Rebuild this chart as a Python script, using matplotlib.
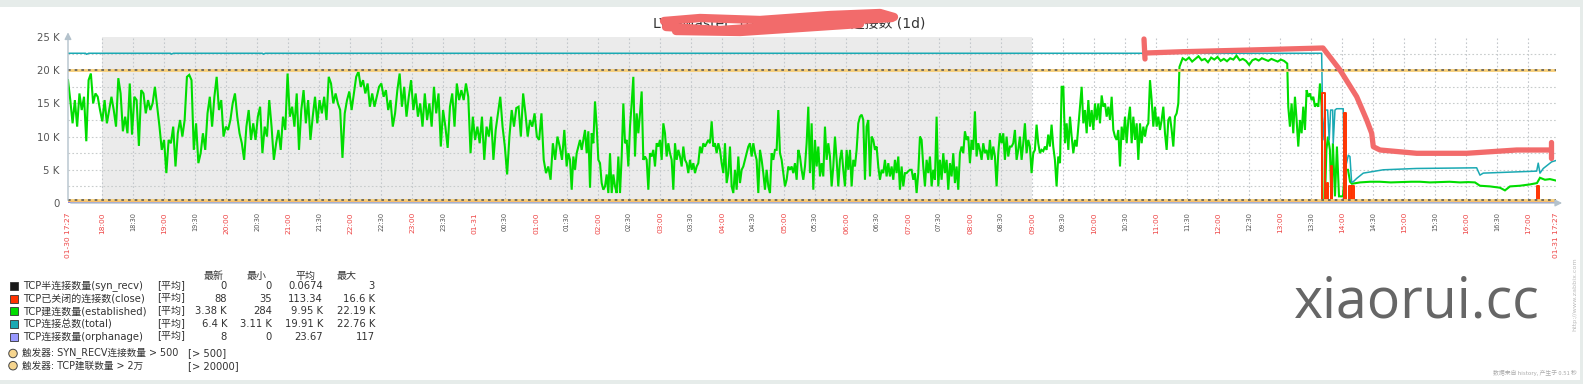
import matplotlib
matplotlib.use('Agg')
import matplotlib.pyplot as plt
import numpy as np
from matplotlib.patches import Rectangle, Ellipse
from matplotlib.lines import Line2D

# ---------------- data (values in K, time in minutes after 01-30 17:27) ----------------
green_a = [18.5,15.5,12,15.5,11.5,16.5,14,16,9.3,18.5,19.5,15,16.5,16,14,12.3,15.5,12,14,16,14,11.5,18.8,16.5,10.8,13,10.5,18,10.3,16,15.5,8.6,17,16.5,13.5,15.5,14,15,17.5,14.5,11.5,8,9.5,4.5,9.5,9,11.5,5.5,10.5,12.5,10,12.5,19,19.3,18.5,8,12,6,7.5,10.5,8,13.5,16,11.5,16,19,14,15.5,10,11.5,11,12.5,15,16.5,13,10.5,9,6.5,11.5,14,9.5,12,9.5,13,14.5,7.5,11.5,10,15.5,11.5,6.5,9,11,8,13,11,19.5,13,14.5,11.5,16.5,8,14,17,12,15.5,9.5,13,16,12,15.5,13.5,16,12.5,19,18,15,16.5,15,14,6.8,13.5,15.5,16.8,14,16.5,19,19.8,17.5,18.5,16.5,18,14.5,16.5,14.5,16,17.5,18,16,17,14,15.5,11.5,13.5,17,19.5,14.5,17.5,13,16,18.5,14,16.5,13,15,11.5,16.5,12.5,15,11.5,17.5,13.5,16.5,8.5,14,11.5,8.3,14.5,16.5,11.5,18,15.5,17,15.5,18,16,7.5,13,9.5,11.5,9,13,6.5,11.5,10,13,6.5,11,13.5,16,11.5,8.5,4.3,10,14,11.5,14.3,14.5,10,16.5,13.5,10,12.5,11.5,13.5,10,9.5,13.5,6.5,4.5,5.5,3.5,9,6.5,10,8.5,6.5,11]
green_b = [5.5,7.5,6.5,2,7,5,7.5,8.5,9.5,8,9.5,11,7.5,10.8,2.3,10.5,9,15.3,11.5,6.5,6,3,2,2.5,4.3,1.5,7.5,1.5,4.3,2.5,1.5,7,1.5,7,15,9,9.5,5.5,11.5,15,19,7,13.5,10.5,13.5,16.8,6.5,7,6.5,2,7.5,7,8,5.5,9,8.5,9.5,6.5,12,10.5,7,9,7.5,6.5,2,9,6.5,8,7,5.5,8.5,6.5,6,4.5,6.5,5,6,4.5,5.5,6,8.5,7.5,9,8.5,9,9.5,9,12.3,8.5,9,7.5,9,8,6,4.5,9,3,4.5,8.5,2.5,1.5,5,2,7,3,5,5.5,6.5,7.5,8.5,9,7,9,7.5,6.5,1.5,8,6.5,4.5,2,5,2.5,1.5,7.5,6.5,8,8,14,7.5,6.5,4.5,2.5,3.5,5.5,5,5.5,4.5,6,3.5,8,7,5,3.5,5.5,9,14.5,4.5,12,2,9.5,5.5,8.5,4,6,4,11.5,6.5,9,7,2.5,5.5,10,6.5,2.5,6.5,8,5,2.5,8,5,8,2.5,6.5,5.5,8,12,13,13.3,12.5,3.5,11.5,12.5,4,10,9.5,8,8.5,5.5,3.5,5,4.5,6.5,4,6,4,5.5,3.5,6.5,4.5,7,2,5.5,2.5,4.5,4.5,4.8,5,5,3.5,4.5,1.5,4.5,10,9.5,5.5,2.5,6.5,4.5,7,2.5,5,3.5,13,2.5,6.5,3.5,7.5,4.5,6.5,2,6,4,7.5,3,5.5,2,7.5,8.5,7.5,10.8,9.5,10,6,9.5,8,13.8,7,9,8,6.5,9,7.5,8,6.5,9.5,6.5,8.5,7,2.5,7.5,10.5,9,10.5,6.5,10,7,8.5,8.5,9,11,6.5,8,10,6.5,9,12,7.5,9.5,8.5,4.5,7.5,8,11.8,9,7.5,8,7.8,8.5,8,10.3,8.5,11.8,8.5,6.5,2.5,7]
green_c = [6,17.5,17.5,9,12,8,13,10,7.5,9.5,8.5,11.5,14.5,17.5,12,14,10.5,15.5,11.5,14,11,15,12.5,15,12,16.2,14.5,15,13,14.5,12.5,16,11,10,9.5,11,5.5,11.5,9.5,13,9,12.5,14.5,9,13,9.5,12,6.5,12,9,11.5,10,11.5,12,18.5,15.5,11.5,14.5,11.5,13,11,12.5,14.5,10.5,8,12.5,13,11,8.5,13,13.5,15]
green_plateau = [20.5,21.8,21.5,21.9,21.3,21.7,22.1,21.5,21.7,21.2,21.9,21.6,22.0,21.4,21.7,21.35,21.8,21.6,22.19,21.5,21.7,21.4,20.8,21.5,21.7,21.45,21.8,21.6,21.4,21.7,21.5,21.3,21.6,21.4,21.0]
green_d = [14.5,11.5,15,10.5,16,12.5,8.5,12.5,10.5,14.5,11,17,16,16.5,15.5,16,14.5,15,14.5,18,14.5]
green_spans = [(0, 480.3), (482.6, 958.3), (960, 1074.5), (1075.6, 1179.9), (1180.9, 1213.2)]
green_tail_t = [1214.2,1216.4,1217.8,1219.3,1221.2,1222.6,1224.1,1226.1,1228,1230,1233.8,1235.8,1238.7,1240.7,1242.5,1250.3,1260,1269.7,1280,1289,1300,1308.4,1318,1327.7,1337,1347.1,1355,1361.6,1366.4,1376.1,1385.8,1390.6,1395.5,1405.1,1414.8,1421.6,1424.5,1429.3,1434.1,1440]
green_tail_v = [0.3,0.3,8,10,8,0.5,9,1,8.5,1,1,5,5,3.2,2.9,3.1,3.2,3.2,3.1,3.15,3.2,3.2,3.1,3.15,3.2,3.1,3.15,3.1,2.6,2.5,2.3,1.9,2.5,2.6,2.8,3.0,3.8,3.5,3.6,3.38]

total_t = [0,17,18,20,99,100,102,188,189,191,1213.2,1214.5,1216.7,1219.0,1220.5,1221.9,1223.9,1224.4,1226.1,1227.7,1234.1,1235.1,1239,1240.6,1242.2,1243.8,1247.1,1253.5,1272.8,1305.1,1363.2,1366.4,1369.6,1421.3,1422.8,1424.5,1427.7,1435.8,1440]
total_v = [22.55,22.55,22.4,22.55,22.55,22.42,22.55,22.55,22.42,22.55,22.55,9.5,14,14,9.5,14,14,9,14,14.2,14.2,4.5,7.2,7.0,3.11,3.2,3.7,4.5,5.0,5.2,5.3,4.2,4.5,4.8,6.0,4.5,5.2,6.2,6.4]

close_t = [0,1213,1214,1216,1218,1219.5,1222,1223.5,1235,1237,1240,1241.5,1243,1244.5,1422,1423.5,1440]
close_v = [0.1,0.1,16.6,0.1,3,0.1,5.5,0.1,13.5,0.1,2.5,0.1,2.5,0.1,2.5,0.1,0.088]

orphan_t = [0, 1260, 1262, 1340, 1342, 1440]
orphan_v = [0.02, 0.02, 0.11, 0.11, 0.02, 0.008]
synrecv_t = [0, 1440]
synrecv_v = [0, 0]

trigger_levels = [20000, 500]

legend_names = ["TCP半连接数量(syn_recv)", "TCP已关闭的连接数(close)", "TCP建连数量(established)",
                "TCP连接总数(total)", "TCP连接数量(orphanage)"]
legend_colors = ["#1a1a1a", "#ff3300", "#00dd00", "#1aa9b3", "#9999ff"]
legend_last = ["0", "88", "3.38 K", "6.4 K", "8"]
legend_min = ["0", "35", "284", "3.11 K", "0"]
legend_avg = ["0.0674", "113.34", "9.95 K", "19.91 K", "23.67"]
legend_max = ["3", "16.6 K", "22.19 K", "22.76 K", "117"]
trigger_names = ["触发器: SYN_RECV连接数量 > 500", "触发器: TCP建联数量 > 2万"]
trigger_vals = ["[> 500]", "[> 20000]"]

# ---------------- figure ----------------
W, H = 1583, 384
FONT = ['DejaVu Sans', 'Noto Sans CJK SC']
plt.rcParams['font.family'] = FONT
fig = plt.figure(figsize=(W / 100, H / 100), dpi=100)
fig.patch.set_facecolor('#e6ecea')

def fx(x):
    return x / W

def fy(y):
    return 1 - y / H

fig.patches.append(Rectangle((0, fy(380)), fx(1580), (380 - 7) / H, transform=fig.transFigure,
                             facecolor='white', edgecolor='none', zorder=-10))

ax = fig.add_axes([fx(68), fy(203), 1488 / W, 166 / H])
ax.set_zorder(1)
ax.set_xlim(0, 1440)
ax.set_ylim(0, 25000)
ax.patch.set_alpha(0)
for s in ax.spines.values():
    s.set_visible(False)

# non-working-time shading 18:00 -> 09:00
ax.axvspan(33, 933, color='#ebebeb', zorder=0, lw=0)

# grid
ticks = np.arange(33, 1440, 30)
for t in ticks:
    ax.axvline(t, color='#c4c8cc', lw=0.8, ls=(0, (1.5, 2)), zorder=1)
for v in np.arange(2500, 25000, 2500):
    ax.axhline(v, color='#c8cccc', lw=0.8, ls=(0, (1.5, 2)), zorder=1)

# series
gt, gv = [], []
for seg, (a, b) in zip([green_a, green_b, green_c, green_plateau, green_d], green_spans):
    gt.extend(np.linspace(a, b, len(seg)))
    gv.extend(seg)
gt.extend(green_tail_t)
gv.extend(green_tail_v)
gv = np.array(gv) * 1000

ax.plot(gt, gv, color='#00dd00', lw=1.5, zorder=3, solid_joinstyle='miter')
ax.plot(total_t, np.array(total_v) * 1000, color='#1aa9b3', lw=1.1, zorder=4)
ax.plot(close_t, np.array(close_v) * 1000, color='#ff3300', lw=1.4, zorder=5, drawstyle='steps-post')
ax.plot(orphan_t, np.array(orphan_v) * 1000, color='#8888ee', lw=1.2, zorder=5)
ax.plot(synrecv_t, synrecv_v, color='#222222', lw=0.6, zorder=5)

for lvl in trigger_levels:
    ax.axhline(lvl, color='#f8cf78', lw=2.0, zorder=6)
    ax.axhline(lvl, color='#5a5a5a', lw=1.2, dashes=(1.6, 2.4), zorder=7)

# axes lines with arrows
ax.annotate('', xy=(0, 1.045), xytext=(0, 0), xycoords='axes fraction',
            arrowprops=dict(arrowstyle='-|>,head_length=0.4,head_width=0.2', color='#b4c2cc', lw=1), zorder=8)
ax.annotate('', xy=(1.006, 0), xytext=(0, 0), xycoords='axes fraction',
            arrowprops=dict(arrowstyle='-|>,head_length=0.4,head_width=0.2', color='#b4c2cc', lw=1), zorder=8)

# y ticks
ax.set_yticks(np.arange(0, 25001, 5000))
ax.set_yticklabels(['0'] + ['%d K' % (v // 1000) for v in range(5000, 25001, 5000)])
ax.tick_params(axis='y', length=0, pad=6, labelsize=7.3, labelcolor='#555555')

# x ticks
xt = [0] + list(ticks) + [1440]
labels, colors, sizes = [], [], []
for t in xt:
    if t == 0:
        labels.append('01-30 17:27'); colors.append('#ee4444'); sizes.append(5.4)
        continue
    if t == 1440:
        labels.append('01-31 17:27'); colors.append('#ee4444'); sizes.append(5.4)
        continue
    m = (17 * 60 + 27 + t) % 1440
    hh, mm = m // 60, m % 60
    if hh == 0 and mm == 0:
        labels.append('01-31'); colors.append('#ee4444'); sizes.append(5.4)
    elif mm == 0:
        labels.append('%02d:00' % hh); colors.append('#ee4444'); sizes.append(5.4)
    else:
        labels.append('%02d:%02d' % (hh, mm)); colors.append('#555555'); sizes.append(4.8)
ax.set_xticks(xt)
ax.set_xticklabels(labels, rotation=90, va='top', ha='center')
for lab, c, s in zip(ax.get_xticklabels(), colors, sizes):
    lab.set_color(c)
    lab.set_fontsize(s)
ax.tick_params(axis='x', length=0, pad=6.5)

# title
fig.text(fx(925), fy(23), 'LVS-Master_10.1.222.11 TCP连接数 (1d)', ha='right', va='center',
         fontsize=10, color='#333333', family=FONT)

# legend
LFS = 7.2
hdr_y = 276
for name, xr in zip(['最新', '最小', '平均', '最大'], [224, 267, 315, 357]):
    fig.text(fx(xr), fy(hdr_y), name, ha='right', va='center', fontsize=LFS, color='#333333', family=FONT)
row_y = [286, 298.5, 311, 324, 336.5]
for i in range(5):
    y = row_y[i]
    fig.patches.append(Rectangle((fx(9.5), fy(y + 4)), 8 / W, 8 / H, transform=fig.transFigure,
                                 facecolor=legend_colors[i], edgecolor='#333333', lw=0.6))
    fig.text(fx(23), fy(y), legend_names[i], ha='left', va='center', fontsize=LFS, color='#333333', family=FONT)
    fig.text(fx(157), fy(y), '[平均]', ha='left', va='center', fontsize=LFS, color='#333333', family=FONT)
    for xr, vals in zip([227, 272, 323, 375], [legend_last, legend_min, legend_avg, legend_max]):
        fig.text(fx(xr), fy(y), vals[i], ha='right', va='center', fontsize=LFS, color='#333333', family=FONT)
for i, y in enumerate([353.5, 365.7]):
    fig.patches.append(Ellipse((fx(13), fy(y)), 8.5 / W, 8.5 / H, transform=fig.transFigure,
                               facecolor='#f6d58e', edgecolor='#444444', lw=0.7))
    fig.text(fx(22), fy(y), trigger_names[i], ha='left', va='center', fontsize=6.9, color='#333333', family=FONT)
    fig.text(fx(188), fy(y), trigger_vals[i], ha='left', va='center', fontsize=LFS, color='#333333', family=FONT)

# watermark & zabbix footer
fig.text(fx(1294), fy(317), 'xiaorui.cc', ha='left', va='baseline', fontsize=40, color='#666666', family='Open Sans')
fig.text(fx(1577), fy(373), '数据来自 history, 产生于 0.51 秒', ha='right', va='center', fontsize=4.2,
         color='#aaaaaa', family=['Noto Sans CJK SC', 'DejaVu Sans'])
fig.text(fx(1575), fy(294), 'http://www.zabbix.com', ha='center', va='center', rotation=90, fontsize=4.6,
         color='#bbbbbb')

# hand-drawn red annotations (figure pixel coordinates)
scribbles = [
    [(664, 21), (700, 18), (760, 20), (830, 15), (880, 13), (894, 17)],
    [(666, 27), (720, 30), (780, 26), (840, 21), (892, 18)],
    [(676, 31), (740, 32), (800, 28), (860, 24)],
]
mark_path = [(1146, 53), (1183, 51.7), (1250, 50), (1323, 48), (1340, 70), (1356.7, 96.7), (1366.7, 120),
             (1371.7, 133.3), (1373.3, 146.7), (1380, 150), (1416.7, 153.3), (1466.7, 153.3), (1516.7, 150),
             (1550, 150)]
mark_ticks = [[(1144, 39), (1145, 59)], [(1551, 142), (1551, 158)]]
for pts in scribbles:
    xs, ys = zip(*pts)
    fig.add_artist(Line2D([fx(x) for x in xs], [fy(y) for y in ys], transform=fig.transFigure,
                          color='#f26b6b', lw=6, solid_capstyle='round', solid_joinstyle='round', zorder=20))
for pts in [mark_path] + mark_ticks:
    xs, ys = zip(*pts)
    fig.add_artist(Line2D([fx(x) for x in xs], [fy(y) for y in ys], transform=fig.transFigure,
                          color='#f26b6b', lw=3.8, solid_capstyle='round', solid_joinstyle='round', zorder=20))

fig.savefig('out.png', dpi=100, facecolor=fig.get_facecolor())
